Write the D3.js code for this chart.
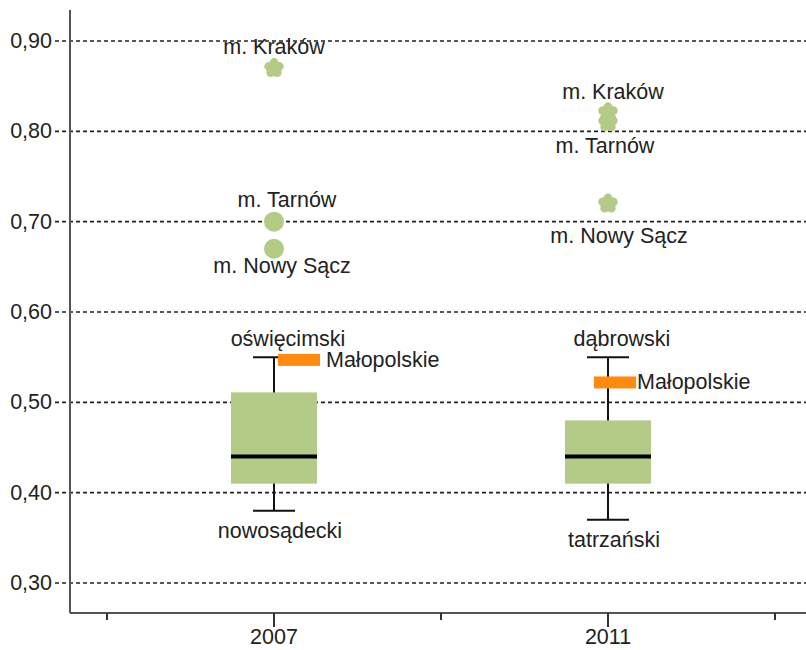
<!DOCTYPE html>
<html>
<head>
<meta charset="utf-8">
<script src="https://cdn.jsdelivr.net/npm/d3@7"></script>
<style>
  html, body { margin: 0; padding: 0; background: #fff; }
  svg { display: block; }
  text { font-family: "Liberation Sans", Arial, sans-serif; fill: #222; }
</style>
</head>
<body>
<div id="chart"></div>
<script>
// Box plot of county values per year, with outliers (cities) and the
// regional value for Małopolskie shown as an orange marker.

const years        = ["2007", "2011"];
const q1           = [0.41, 0.41];
const medians      = [0.44, 0.44];
const q3           = [0.511, 0.48];
const whiskerLow   = [0.38, 0.37];
const whiskerHigh  = [0.55, 0.55];
const lowNames     = ["nowosądecki", "tatrzański"];
const highNames    = ["oświęcimski", "dąbrowski"];

const regionName   = "Małopolskie";
const regionValues = [0.547, 0.522];

const outlierYears  = ["2007", "2007", "2007", "2011", "2011", "2011"];
const outlierNames  = ["m. Kraków", "m. Tarnów", "m. Nowy Sącz", "m. Kraków", "m. Tarnów", "m. Nowy Sącz"];
const outlierValues = [0.87, 0.70, 0.67, 0.821, 0.81, 0.72];
const outlierKinds  = ["extreme", "outlier", "outlier", "extreme", "extreme", "extreme"];

const yTicks = [0.30, 0.40, 0.50, 0.60, 0.70, 0.80, 0.90];

const W = 806, H = 650;
const GREEN  = "#b3cb86";
const ORANGE = "#ff8a12";
const FONT   = 21.5;

const svg = d3.select("#chart").append("svg")
  .attr("width", W).attr("height", H);

const y = d3.scaleLinear().domain([0.30, 0.90]).range([583, 41]);
// slot scale: years sit on odd slots, blank ticks between
const x = d3.scaleLinear().domain([0, 4]).range([107, 775]);
const slotOf = yr => years.indexOf(yr) * 2 + 1;

const axisX = 70, axisBottom = 613, axisTop = 10;

// grid lines (dashed, also forming the tick marks)
svg.append("g")
  .selectAll("line")
  .data(yTicks)
  .join("line")
    .attr("x1", 55).attr("x2", W)
    .attr("y1", d => y(d)).attr("y2", d => y(d))
    .attr("stroke", "#222")
    .attr("stroke-width", 1.6)
    .attr("stroke-dasharray", "4,3");

// y tick labels
svg.append("g")
  .selectAll("text")
  .data(yTicks)
  .join("text")
    .attr("x", 52)
    .attr("y", d => y(d) + 7)
    .attr("text-anchor", "end")
    .attr("font-size", FONT)
    .text(d => d3.format(".2f")(d).replace(".", ","));

// boxes
const boxW = 86, capW = 42;
const boxes = svg.append("g");
years.forEach((yr, i) => {
  const cx = x(slotOf(yr));
  boxes.append("line")
    .attr("x1", cx).attr("x2", cx)
    .attr("y1", y(whiskerHigh[i])).attr("y2", y(whiskerLow[i]))
    .attr("stroke", "#111").attr("stroke-width", 2);
  [whiskerHigh[i], whiskerLow[i]].forEach(v => {
    boxes.append("line")
      .attr("x1", cx - capW / 2).attr("x2", cx + capW / 2)
      .attr("y1", y(v)).attr("y2", y(v))
      .attr("stroke", "#111").attr("stroke-width", 2);
  });
  boxes.append("rect")
    .attr("x", cx - boxW / 2)
    .attr("y", y(q3[i]))
    .attr("width", boxW)
    .attr("height", y(q1[i]) - y(q3[i]))
    .attr("fill", GREEN);
  boxes.append("line")
    .attr("x1", cx - boxW / 2).attr("x2", cx + boxW / 2)
    .attr("y1", y(medians[i])).attr("y2", y(medians[i]))
    .attr("stroke", "#000").attr("stroke-width", 4);

  boxes.append("text")
    .attr("x", cx + 14).attr("y", y(whiskerHigh[i]) - 11)
    .attr("text-anchor", "middle").attr("font-size", FONT)
    .text(highNames[i]);
  boxes.append("text")
    .attr("x", cx + 6).attr("y", y(whiskerLow[i]) + 27)
    .attr("text-anchor", "middle").attr("font-size", FONT)
    .text(lowNames[i]);
});

// regional marker
const regionDx = [25, 7];
years.forEach((yr, i) => {
  const cx = x(slotOf(yr)) + regionDx[i];
  svg.append("rect")
    .attr("x", cx - 21).attr("y", y(regionValues[i]) - 6)
    .attr("width", 42).attr("height", 12)
    .attr("fill", ORANGE);
  svg.append("text")
    .attr("x", cx + (i === 0 ? 27 : 22)).attr("y", y(regionValues[i]) + 7)
    .attr("font-size", FONT)
    .text(regionName);
});

// outliers
const outliers = outlierNames.map((n, i) => ({
  name: n, year: outlierYears[i], value: outlierValues[i], kind: outlierKinds[i]
}));

function flower(r) {
  const p = d3.path();
  for (let k = 0; k < 5; k++) {
    const a = -Math.PI / 2 + k * 2 * Math.PI / 5;
    const px = Math.cos(a) * r * 0.55, py = Math.sin(a) * r * 0.55;
    p.moveTo(px + r * 0.45, py);
    p.arc(px, py, r * 0.45, 0, 2 * Math.PI);
  }
  p.moveTo(r * 0.6, 0);
  p.arc(0, 0, r * 0.6, 0, 2 * Math.PI);
  return p.toString();
}

const labelDy = {
  "2007|m. Kraków": -14, "2007|m. Tarnów": -15, "2007|m. Nowy Sącz": 24,
  "2011|m. Kraków": -13, "2011|m. Tarnów": 31, "2011|m. Nowy Sącz": 39,
};
const labelDx = {
  "2007|m. Kraków": 0, "2007|m. Tarnów": 13, "2007|m. Nowy Sącz": 8,
  "2011|m. Kraków": 5, "2011|m. Tarnów": -3, "2011|m. Nowy Sącz": 11,
};

const og = svg.append("g");
outliers.forEach(d => {
  const cx = x(slotOf(d.year)), cy = y(d.value);
  if (d.kind === "extreme") {
    og.append("path")
      .attr("transform", `translate(${cx},${cy})`)
      .attr("d", flower(10))
      .attr("fill", GREEN);
  } else {
    og.append("circle")
      .attr("cx", cx).attr("cy", cy).attr("r", 10)
      .attr("fill", GREEN);
  }
});
outliers.forEach(d => {
  const key = d.year + "|" + d.name;
  og.append("text")
    .attr("x", x(slotOf(d.year)) + labelDx[key])
    .attr("y", y(d.value) + labelDy[key])
    .attr("text-anchor", "middle")
    .attr("font-size", FONT)
    .text(d.name);
});

// axes lines
svg.append("line")
  .attr("x1", axisX).attr("x2", axisX)
  .attr("y1", axisTop).attr("y2", axisBottom)
  .attr("stroke", "#555").attr("stroke-width", 2);
svg.append("line")
  .attr("x1", axisX).attr("x2", W)
  .attr("y1", axisBottom).attr("y2", axisBottom)
  .attr("stroke", "#555").attr("stroke-width", 2);

// x ticks
const slots = d3.range(0, 5);
svg.append("g")
  .selectAll("line")
  .data(slots)
  .join("line")
    .attr("x1", d => x(d)).attr("x2", d => x(d))
    .attr("y1", axisBottom)
    .attr("y2", d => axisBottom + (d % 2 ? 14 : 7))
    .attr("stroke", "#333").attr("stroke-width", 2);
svg.append("g")
  .selectAll("text")
  .data(years)
  .join("text")
    .attr("x", d => x(slotOf(d)))
    .attr("y", 644)
    .attr("text-anchor", "middle")
    .attr("font-size", FONT)
    .text(d => d);
</script>
</body>
</html>
